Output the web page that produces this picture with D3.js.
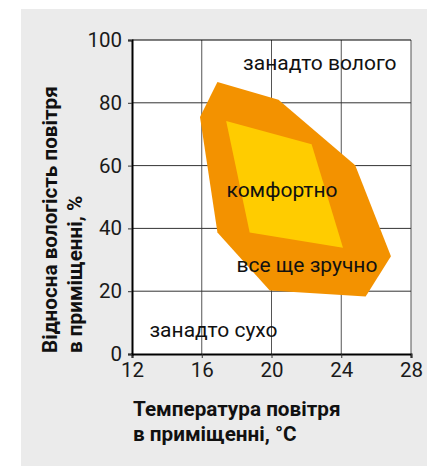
<!DOCTYPE html>
<html>
<head>
<meta charset="utf-8">
<script src="https://cdn.jsdelivr.net/npm/d3@7"></script>
<style>
  html, body { margin: 0; padding: 0; background: #fff; }
  svg { display: block; font-family: Roboto, "Noto Sans", sans-serif; }
</style>
</head>
<body>
<svg id="chart"></svg>
<script>
// Chart data
const xTicks = [12, 16, 20, 24, 28];
const yTicks = [0, 20, 40, 60, 80, 100];

// outer zone: "все ще зручно" (temperature, humidity)
const stillOkTemp = [16.9, 20.4, 24.8, 26.85, 25.4, 19.9, 16.9, 15.9];
const stillOkHum = [86.6, 81, 60.1, 31.1, 18.3, 20.2, 38.7, 75.5];

// inner zone: "комфортно"
const comfortTemp = [17.4, 22.3, 24.1, 18.75];
const comfortHum = [74.2, 66.8, 33.8, 38.7];

const zoneLabels = ["занадто волого", "комфортно", "все ще зручно", "занадто сухо"];
const labelTemp = [18.37, 17.42, 17.99, 13.0];
const labelHum = [90.5, 50.1, 26.0, 5.3];

const width = 427;
const height = 466;

const svg = d3.select("#chart")
  .attr("width", width)
  .attr("height", height);

// gray panel
svg.append("rect")
  .attr("x", 21).attr("y", 9)
  .attr("width", width - 21).attr("height", height - 9)
  .attr("fill", "#ebebeb");

const x = d3.scaleLinear().domain([12, 28]).range([132, 411]);
const y = d3.scaleLinear().domain([0, 100]).range([354, 40]);

// plot background
svg.append("rect")
  .attr("x", x(12)).attr("y", y(100))
  .attr("width", x(28) - x(12)).attr("height", y(0) - y(100))
  .attr("fill", "#fff");

// grid
svg.append("g").selectAll("line")
  .data(xTicks.slice(1))
  .enter().append("line")
  .attr("x1", d => x(d)).attr("x2", d => x(d))
  .attr("y1", y(100)).attr("y2", y(0))
  .attr("stroke", "#555").attr("stroke-width", 1);

svg.append("g").selectAll("line")
  .data(yTicks.slice(1))
  .enter().append("line")
  .attr("x1", x(12)).attr("x2", x(28))
  .attr("y1", d => y(d)).attr("y2", d => y(d))
  .attr("stroke", d => d === 100 ? "#000" : "#333").attr("stroke-width", 1);

// zones
const line = d3.line().x(d => x(d[0])).y(d => y(d[1]));
const outerPts = stillOkTemp.map((t, i) => [t, stillOkHum[i]]);
const innerPts = comfortTemp.map((t, i) => [t, comfortHum[i]]);

svg.append("path")
  .attr("d", line(outerPts) + "Z")
  .attr("fill", "#f39200");

svg.append("path")
  .attr("d", line(innerPts) + "Z")
  .attr("fill", "#ffcc00");

// axes
const xAxis = d3.axisBottom(x).tickValues(xTicks).tickSize(4).tickPadding(4);
const yAxis = d3.axisLeft(y).tickValues(yTicks).tickSize(4).tickPadding(6);

const gx = svg.append("g")
  .attr("transform", `translate(0,${y(0)})`)
  .call(xAxis);
gx.select(".domain").attr("stroke", "#000").attr("stroke-width", 2);
gx.selectAll(".tick line").attr("stroke", "#333");
gx.selectAll("text").attr("font-size", 20.5).attr("fill", "#1a1a1a")
  .attr("font-family", "Roboto");

const gy = svg.append("g")
  .attr("transform", `translate(${x(12)},0)`)
  .call(yAxis);
gy.select(".domain").attr("stroke", "#000").attr("stroke-width", 2);
gy.selectAll(".tick line").attr("stroke", "#333");
gy.selectAll("text").attr("font-size", 20.5).attr("fill", "#1a1a1a")
  .attr("font-family", "Roboto");

// zone labels
svg.append("g").selectAll("text")
  .data(zoneLabels)
  .enter().append("text")
  .attr("x", (d, i) => x(labelTemp[i]))
  .attr("y", (d, i) => y(labelHum[i]))
  .attr("font-size", 21)
  .attr("fill", "#111")
  .text(d => d);

// axis titles
const xTitle = svg.append("text")
  .attr("font-size", 20.7).attr("font-weight", "bold").attr("fill", "#111");
xTitle.append("tspan").attr("x", 133).attr("y", 416).text("Температура повітря");
xTitle.append("tspan").attr("x", 133).attr("y", 441).text("в приміщенні, °C");

const yTitle = svg.append("text")
  .attr("transform", "translate(57,353) rotate(-90)")
  .attr("font-size", 20.7).attr("font-weight", "bold").attr("fill", "#111");
yTitle.append("tspan").attr("x", 0).attr("y", 0).text("Відносна вологість повітря");
yTitle.append("tspan").attr("x", 0).attr("y", 25).text("в приміщенні, %");
</script>
</body>
</html>
